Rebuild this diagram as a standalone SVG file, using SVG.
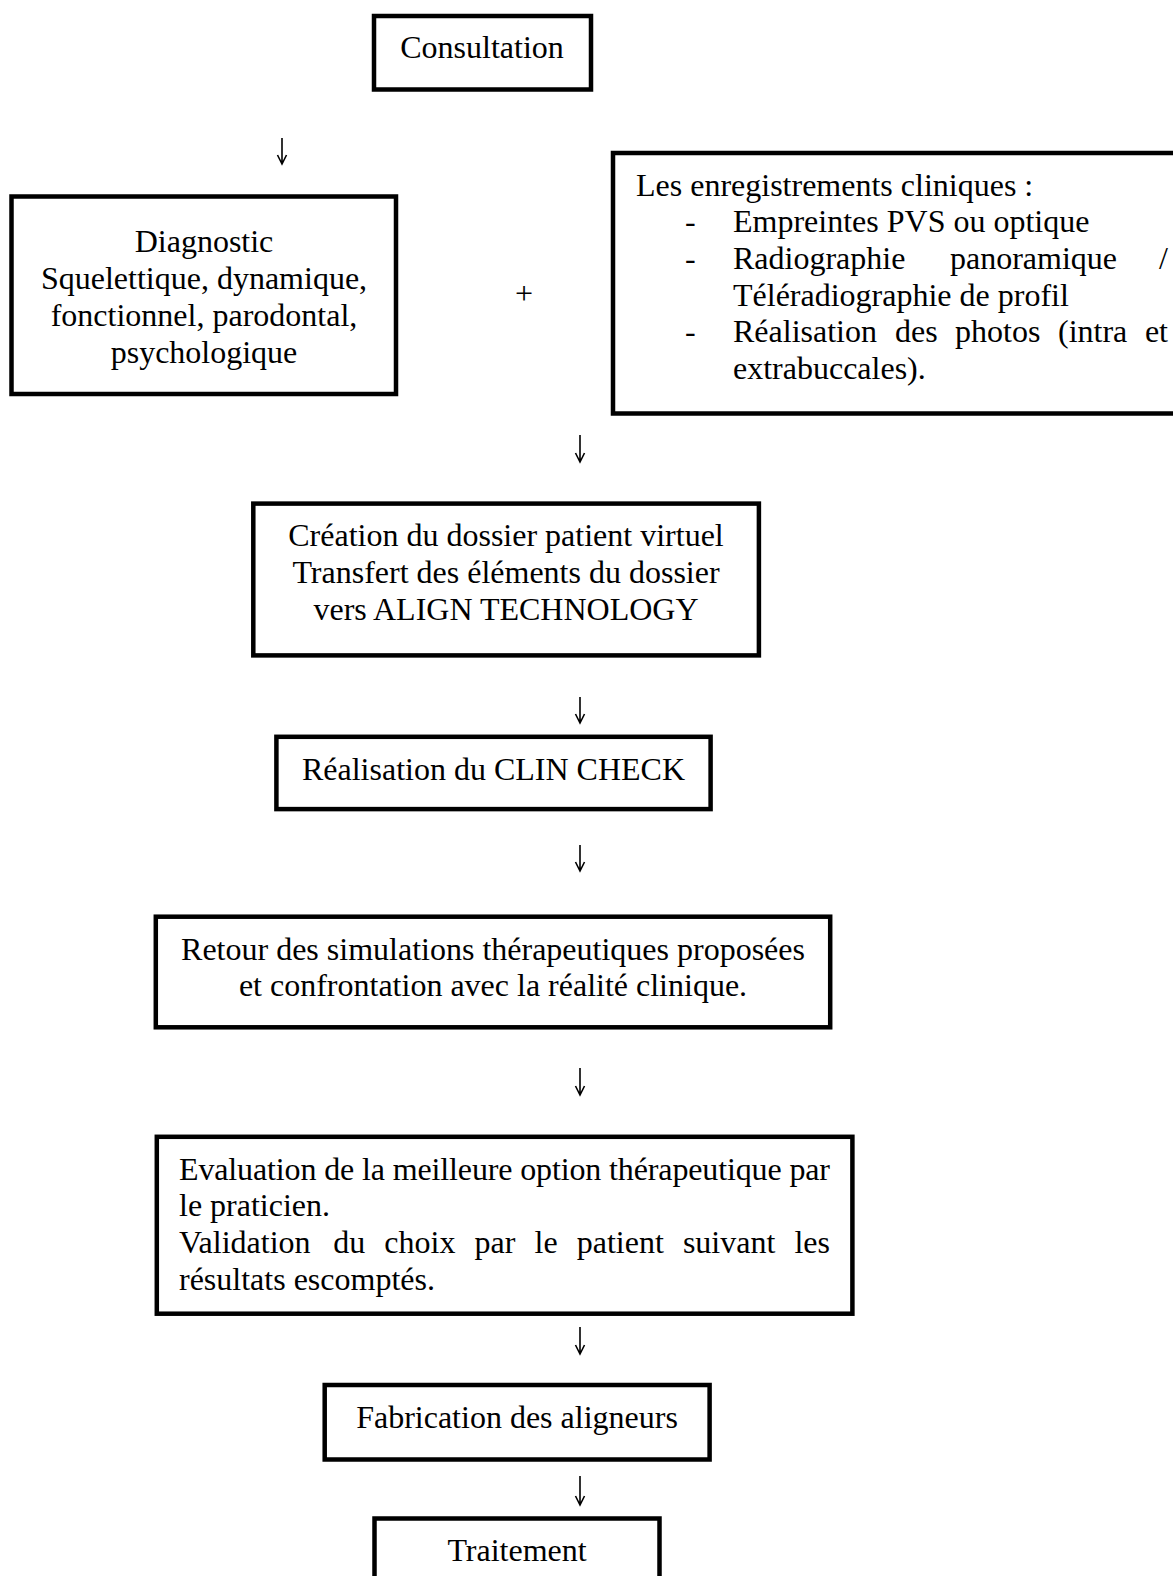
<svg xmlns="http://www.w3.org/2000/svg" width="1173" height="1576" viewBox="0 0 1173 1576">
<style>
.box{fill:#fff;stroke:#000;stroke-width:4.5}
text{font-family:"Liberation Serif","Times New Roman",serif;font-size:32px;fill:#000}
.c{text-anchor:middle}
.e{text-anchor:end}
.arr{fill:none;stroke:#000;stroke-width:1.6}
</style>
<rect width="1173" height="1576" fill="#fff"/>
<g id="connectors">
<path class="arr" d="M282 138V164M277.5 155L282 164L286.5 155"/>
<text x="524" y="304" class="c">+</text>
<path class="arr" d="M580 435V462M575.5 453L580 462L584.5 453"/>
<path class="arr" d="M580 697V723M575.5 714L580 723L584.5 714"/>
<path class="arr" d="M580 845V871M575.5 862L580 871L584.5 862"/>
<path class="arr" d="M580 1068V1095M575.5 1086L580 1095L584.5 1086"/>
<path class="arr" d="M580 1327V1354M575.5 1345L580 1354L584.5 1345"/>
<path class="arr" d="M580 1476V1505M575.5 1496L580 1505L584.5 1496"/>
</g>
<g id="consultation">
<rect class="box" x="374" y="16" width="217" height="73.5"/>
<text x="482" y="58" class="c">Consultation</text>
</g>
<g id="diagnostic">
<rect class="box" x="11.5" y="196.5" width="384.5" height="197.5"/>
<text x="204" y="252" class="c">Diagnostic</text>
<text x="204" y="289" class="c">Squelettique, dynamique,</text>
<text x="204" y="326" class="c">fonctionnel, parodontal,</text>
<text x="204" y="363" class="c">psychologique</text>
</g>
<g id="enregistrements">
<rect class="box" x="613" y="153" width="600" height="260.5"/>
<text x="636" y="196">Les enregistrements cliniques :</text>
<text x="685" y="232">-</text>
<text x="733" y="232">Empreintes PVS ou optique</text>
<text x="685" y="269">-</text>
<text x="733" y="269">Radiographie</text>
<text x="950" y="269">panoramique</text>
<text x="1168" y="269" class="e">/</text>
<text x="733" y="306">Téléradiographie de profil</text>
<text x="685" y="342">-</text>
<text x="733" y="342">Réalisation</text>
<text x="895" y="342">des</text>
<text x="955" y="342">photos</text>
<text x="1058" y="342">(intra</text>
<text x="1168" y="342" class="e">et</text>
<text x="733" y="379">extrabuccales).</text>
</g>
<g id="creation">
<rect class="box" x="253.3" y="503.6" width="505.6" height="151.8"/>
<text x="506" y="546" class="c">Création du dossier patient virtuel</text>
<text x="506" y="583" class="c">Transfert des éléments du dossier</text>
<text x="506" y="620" class="c">vers ALIGN TECHNOLOGY</text>
</g>
<g id="clincheck">
<rect class="box" x="276.4" y="736.8" width="434.2" height="72.3"/>
<text x="493.5" y="780" class="c">Réalisation du CLIN CHECK</text>
</g>
<g id="retour">
<rect class="box" x="155.8" y="916.7" width="674.4" height="110.6"/>
<text x="493" y="960" class="c">Retour des simulations thérapeutiques proposées</text>
<text x="493" y="996" class="c">et confrontation avec la réalité clinique.</text>
</g>
<g id="evaluation">
<rect class="box" x="156.8" y="1136.8" width="695.6" height="176.9"/>
<text x="179" y="1180" textLength="651" lengthAdjust="spacing">Evaluation de la meilleure option thérapeutique par</text>
<text x="179" y="1216">le praticien.</text>
<text x="179" y="1253">Validation</text>
<text x="333.2" y="1253">du</text>
<text x="384.3" y="1253">choix</text>
<text x="474.5" y="1253">par</text>
<text x="534.5" y="1253">le</text>
<text x="576.7" y="1253">patient</text>
<text x="682.9" y="1253">suivant</text>
<text x="830" y="1253" class="e">les</text>
<text x="179" y="1290">résultats escomptés.</text>
</g>
<g id="fabrication">
<rect class="box" x="324.7" y="1385" width="384.9" height="74.5"/>
<text x="517" y="1428" class="c">Fabrication des aligneurs</text>
</g>
<g id="traitement">
<rect class="box" x="374.5" y="1518.5" width="285" height="100"/>
<text x="517" y="1561" class="c">Traitement</text>
</g>
</svg>
